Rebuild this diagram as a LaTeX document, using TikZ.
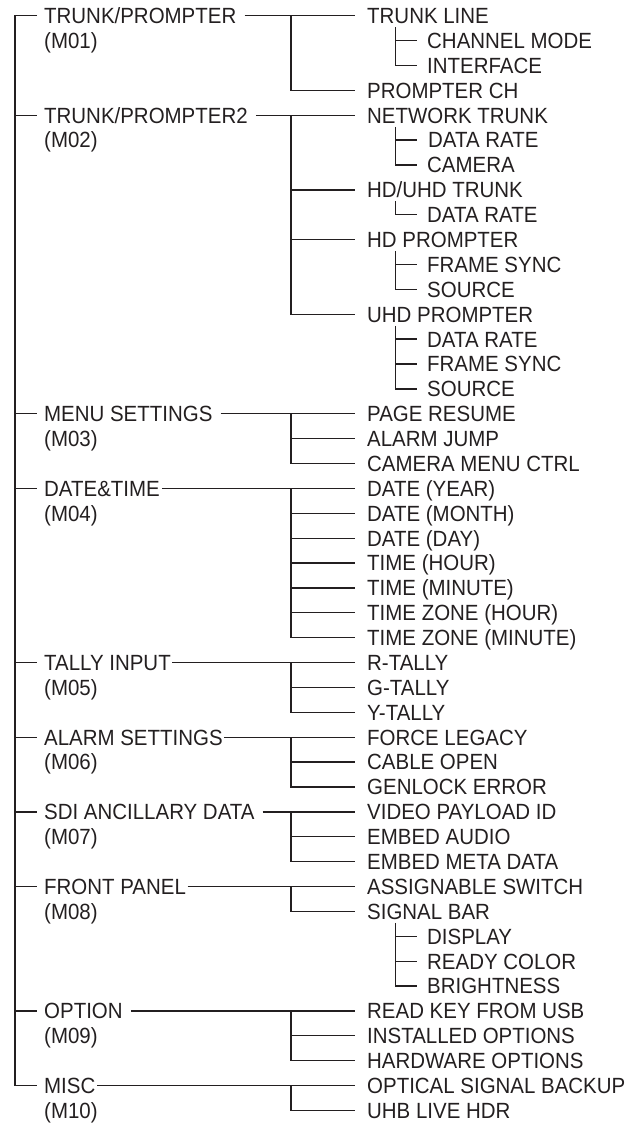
\documentclass[tikz,border=0pt]{standalone}
\usepackage{fontspec}
\setmainfont{Liberation Sans}[FakeStretch=0.93]
\definecolor{ink}{RGB}{35,31,32}
\newcommand\R[1]{(15.7+(#1-1)*24.88)}
\begin{document}
\begin{tikzpicture}[x=1pt,y=-1pt,
  lbl/.style={anchor=west, inner sep=0pt, text height=15.75pt, text depth=0pt,
    font=\fontsize{22}{26}\selectfont, text=ink},
  wire/.style={draw=ink, line width=1.3pt, line join=miter}]
\useasboundingbox (0,0) rectangle (641,1126);
\coordinate (j1) at (15,0);
\coordinate (j2) at (291,0);
\coordinate (j3) at (395.5,0);
% level 1
\node[lbl] (m01) at (44,{\R{1}}) {TRUNK/PROMPTER};
\node[lbl] (m01c) at (44,{\R{2}}) {(M01)};
\node[lbl] (m02) at (44,{\R{5}}) {TRUNK/PROMPTER2};
\node[lbl] (m02c) at (44,{\R{6}}) {(M02)};
\node[lbl] (m03) at (44,{\R{17}}) {MENU SETTINGS};
\node[lbl] (m03c) at (44,{\R{18}}) {(M03)};
\node[lbl] (m04) at (44,{\R{20}}) {DATE\&TIME};
\node[lbl] (m04c) at (44,{\R{21}}) {(M04)};
\node[lbl] (m05) at (44,{\R{27}}) {TALLY INPUT};
\node[lbl] (m05c) at (44,{\R{28}}) {(M05)};
\node[lbl] (m06) at (44,{\R{30}}) {ALARM SETTINGS};
\node[lbl] (m06c) at (44,{\R{31}}) {(M06)};
\node[lbl] (m07) at (44,{\R{33}}) {SDI ANCILLARY DATA};
\node[lbl] (m07c) at (44,{\R{34}}) {(M07)};
\node[lbl] (m08) at (44,{\R{36}}) {FRONT PANEL};
\node[lbl] (m08c) at (44,{\R{37}}) {(M08)};
\node[lbl] (m09) at (44,{\R{41}}) {OPTION};
\node[lbl] (m09c) at (44,{\R{42}}) {(M09)};
\node[lbl] (m10) at (44,{\R{44}}) {MISC};
\node[lbl] (m10c) at (44,{\R{45}}) {(M10)};
% level 2
\node[lbl] (tl) at (367,{\R{1}}) {TRUNK LINE};
\node[lbl] (pch) at (367,{\R{4}}) {PROMPTER CH};
\node[lbl] (nt) at (367,{\R{5}}) {NETWORK TRUNK};
\node[lbl] (hut) at (367,{\R{8}}) {HD/UHD TRUNK};
\node[lbl] (hdp) at (367,{\R{10}}) {HD PROMPTER};
\node[lbl] (uhdp) at (367,{\R{13}}) {UHD PROMPTER};
\node[lbl] (pr) at (367,{\R{17}}) {PAGE RESUME};
\node[lbl] (aj) at (367,{\R{18}}) {ALARM JUMP};
\node[lbl] (cmc) at (367,{\R{19}}) {CAMERA MENU CTRL};
\node[lbl] (dy) at (367,{\R{20}}) {DATE (YEAR)};
\node[lbl] (dm) at (367,{\R{21}}) {DATE (MONTH)};
\node[lbl] (dd) at (367,{\R{22}}) {DATE (DAY)};
\node[lbl] (th) at (367,{\R{23}}) {TIME (HOUR)};
\node[lbl] (tm) at (367,{\R{24}}) {TIME (MINUTE)};
\node[lbl] (tzh) at (367,{\R{25}}) {TIME ZONE (HOUR)};
\node[lbl] (tzm) at (367,{\R{26}}) {TIME ZONE (MINUTE)};
\node[lbl] (rt) at (367,{\R{27}}) {R-TALLY};
\node[lbl] (gt) at (367,{\R{28}}) {G-TALLY};
\node[lbl] (yt) at (367,{\R{29}}) {Y-TALLY};
\node[lbl] (fl) at (367,{\R{30}}) {FORCE LEGACY};
\node[lbl] (co) at (367,{\R{31}}) {CABLE OPEN};
\node[lbl] (ge) at (367,{\R{32}}) {GENLOCK ERROR};
\node[lbl] (vpi) at (367,{\R{33}}) {VIDEO PAYLOAD ID};
\node[lbl] (ea) at (367,{\R{34}}) {EMBED AUDIO};
\node[lbl] (emd) at (367,{\R{35}}) {EMBED META DATA};
\node[lbl] (as) at (367,{\R{36}}) {ASSIGNABLE SWITCH};
\node[lbl] (sb) at (367,{\R{37}}) {SIGNAL BAR};
\node[lbl] (rk) at (367,{\R{41}}) {READ KEY FROM USB};
\node[lbl] (io) at (367,{\R{42}}) {INSTALLED OPTIONS};
\node[lbl] (ho) at (367,{\R{43}}) {HARDWARE OPTIONS};
\node[lbl] (osb) at (367,{\R{44}}) {OPTICAL SIGNAL BACKUP};
\node[lbl] (uhb) at (367,{\R{45}}) {UHB LIVE HDR};
% level 3
\node[lbl] (chm) at (427,{\R{2}}) {CHANNEL MODE};
\node[lbl] (itf) at (427,{\R{3}}) {INTERFACE};
\node[lbl] (ntdr) at (428,{\R{6}}) {DATA RATE};
\node[lbl] (ntcam) at (427,{\R{7}}) {CAMERA};
\node[lbl] (hutdr) at (427,{\R{9}}) {DATA RATE};
\node[lbl] (hdpfs) at (427,{\R{11}}) {FRAME SYNC};
\node[lbl] (hdpsrc) at (427,{\R{12}}) {SOURCE};
\node[lbl] (uhddr) at (427,{\R{14}}) {DATA RATE};
\node[lbl] (uhdfs) at (427,{\R{15}}) {FRAME SYNC};
\node[lbl] (uhdsrc) at (427,{\R{16}}) {SOURCE};
\node[lbl] (sbd) at (427,{\R{38}}) {DISPLAY};
\node[lbl] (sbrc) at (427,{\R{39}}) {READY COLOR};
\node[lbl] (sbb) at (427,{\R{40}}) {BRIGHTNESS};

% main trunk
\draw[wire] ([xshift=-7pt]m01.west) -| (j1 |- m10.west) -- ([xshift=-7pt]m10.west);
\foreach \n in {m02,m03,m04,m05,m06,m07,m08,m09}
  \draw[wire] (j1 |- \n.west) -- ([xshift=-7pt]\n.west);

% level 1 to level 2 lines
\foreach \a/\b/\g in {m01/tl/8,m02/nt/8,m03/pr/8,m04/dy/2,m05/rt/1.5,m06/fl/1.5,m07/vpi/8,m08/as/1.5,m09/rk/8,m10/osb/1.5}
  \draw[wire] ([xshift=\g pt]\a.east) -- ([xshift=-12pt]\b.west);

% level 2 verticals (first -> last)
\foreach \f/\l in {tl/pch,nt/uhdp,pr/cmc,dy/tzm,rt/yt,fl/ge,vpi/emd,as/sb,rk/ho,osb/uhb}
  \draw[wire] (j2 |- \f.west) |- ([xshift=-12pt]\l.west);
% level 2 middle ticks
\foreach \n in {hut,hdp,aj,dm,dd,th,tm,tzh,gt,co,ea,io}
  \draw[wire] (j2 |- \n.west) -- ([xshift=-12pt]\n.west);

% level 3 groups
\foreach \p/\l in {tl/itf,nt/ntcam,hut/hutdr,hdp/hdpsrc,uhdp/uhdsrc,sb/sbb}
  \draw[wire] ([yshift=-11.6pt]\p.west -| j3) |- ([xshift=-10pt]\l.west -| chm.west);
\foreach \n in {chm,ntdr,hdpfs,uhddr,uhdfs,sbd,sbrc}
  \draw[wire] (j3 |- \n.west) -- ([xshift=-10pt]\n.west -| chm.west);
\end{tikzpicture}
\end{document}
